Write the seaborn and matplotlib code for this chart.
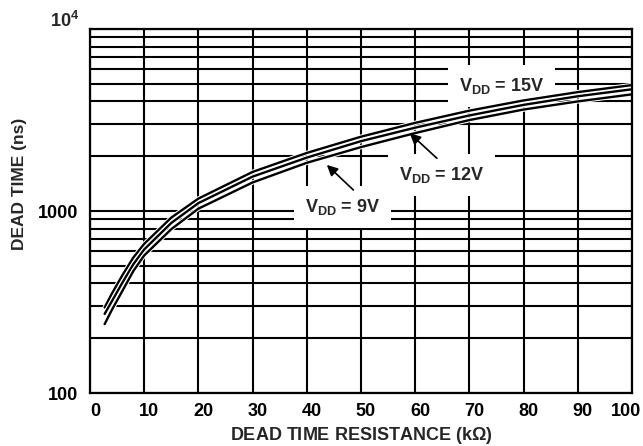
import matplotlib
matplotlib.use("Agg")
import matplotlib.pyplot as plt
import matplotlib.patheffects as pe
import matplotlib.transforms as mtransforms
from matplotlib.ticker import FixedLocator, LogLocator, NullFormatter
import pandas as pd
import seaborn as sns

# dead time resistance (kOhm) vs dead time (ns)
resistance = [2.7, 4, 6, 8, 10, 15, 20, 30, 40, 50, 60, 70, 80, 90, 100]
dt_15v = [295, 350, 445, 555, 660, 920, 1170, 1640, 2085, 2560, 3050, 3560, 4050, 4500, 4920]
dt_12v = [272, 318, 405, 510, 615, 860, 1105, 1545, 1965, 2420, 2870, 3350, 3830, 4270, 4665]
dt_9v = [239, 285, 365, 468, 570, 795, 1030, 1435, 1840, 2245, 2680, 3160, 3610, 4000, 4375]
vdd = ["15V", "12V", "9V"]

xticks = [0, 10, 20, 30, 40, 50, 60, 70, 80, 90, 100]
yticks = [100, 1000, 10000]
ytick_labels = ["100", "1000", ""]

sns.set_theme(style="white")
plt.rcParams["font.family"] = ["Liberation Sans", "DejaVu Sans"]
plt.rcParams["font.weight"] = "bold"
plt.rcParams["mathtext.fontset"] = "custom"
plt.rcParams["mathtext.rm"] = "Liberation Sans"
plt.rcParams["mathtext.bf"] = "Liberation Sans:bold"

df = pd.DataFrame({
    "R": resistance * 3,
    "DT": dt_15v + dt_12v + dt_9v,
    "VDD": [v for v in vdd for _ in resistance],
})

fig = plt.figure(figsize=(6.43, 4.46), dpi=100)
ax = fig.add_axes([90 / 643, 1 - 393 / 446, 542 / 643, 364 / 446])

sns.lineplot(data=df, x="R", y="DT", hue="VDD", hue_order=vdd,
             palette=["black"] * 3, legend=False, lw=1.7, errorbar=None,
             ax=ax, zorder=4)
for ln in ax.lines:
    ln.set_solid_joinstyle("round")
    ln.set_path_effects([pe.Stroke(linewidth=3.2, foreground="white"), pe.Normal()])

ax.set_yscale("log")
ax.set_xlim(0, 100)
ax.set_ylim(100, 10000)
ax.xaxis.set_major_locator(FixedLocator(xticks))
ax.yaxis.set_major_locator(FixedLocator(yticks))
ax.yaxis.set_minor_locator(LogLocator(base=10, subs=range(2, 10)))
ax.yaxis.set_minor_formatter(NullFormatter())
ax.set_yticklabels(ytick_labels)
ax.set_xticklabels([str(t) for t in xticks])

ax.grid(which="major", color="black", lw=1.5, zorder=1)
ax.grid(which="minor", axis="y", color="black", lw=1.5, zorder=1)
ax.set_axisbelow(True)
for s in ax.spines.values():
    s.set_color("black")
    s.set_linewidth(1.6)
    s.set_zorder(6)

ax.tick_params(axis="both", which="both", length=0, labelsize=13, colors="black")
ax.tick_params(axis="y", pad=8.5)
ax.tick_params(axis="x", pad=7.5)
for lab in ax.get_xticklabels():
    dx = -0.06 if lab.get_text() == "100" else 0.05
    lab.set_transform(lab.get_transform() + mtransforms.ScaledTranslation(dx, 0, fig.dpi_scale_trans))

ax.text(-0.0205, 1.0055, r"10$^{\mathbf{4}}$", transform=ax.transAxes,
        ha="right", va="baseline", fontsize=13, fontweight="bold")

ax.set_xlabel(r"DEAD TIME RESISTANCE (k$\Omega$)", fontsize=13, fontweight="bold", labelpad=3)
ax.set_ylabel("DEAD TIME (ns)", fontsize=12.5, fontweight="bold")
ax.yaxis.set_label_coords(-0.116, 0.574)

box = dict(boxstyle="square,pad=0.6", fc="white", ec="none")
ax.text(76.0, 4860, r"V$_{\mathbf{DD}}$ = 15V", fontsize=13, fontweight="bold",
        ha="center", va="center", bbox=box, zorder=3)
ax.text(64.9, 1578, r"V$_{\mathbf{DD}}$ = 12V", fontsize=13, fontweight="bold",
        ha="center", va="center", bbox=box, zorder=3)
ax.text(46.6, 1056, r"V$_{\mathbf{DD}}$ = 9V", fontsize=13, fontweight="bold",
        ha="center", va="center", bbox=box, zorder=3)

arrow = dict(arrowstyle="-|>", color="black", lw=1.2, mutation_scale=16, shrinkA=0, shrinkB=0)
ax.annotate("", xy=(43.7, 1791), xytext=(48.6, 1304), arrowprops=arrow, zorder=5)
ax.annotate("", xy=(59.0, 2673), xytext=(64.0, 1948), arrowprops=arrow, zorder=5)

fig.savefig("out.png", dpi=100)
